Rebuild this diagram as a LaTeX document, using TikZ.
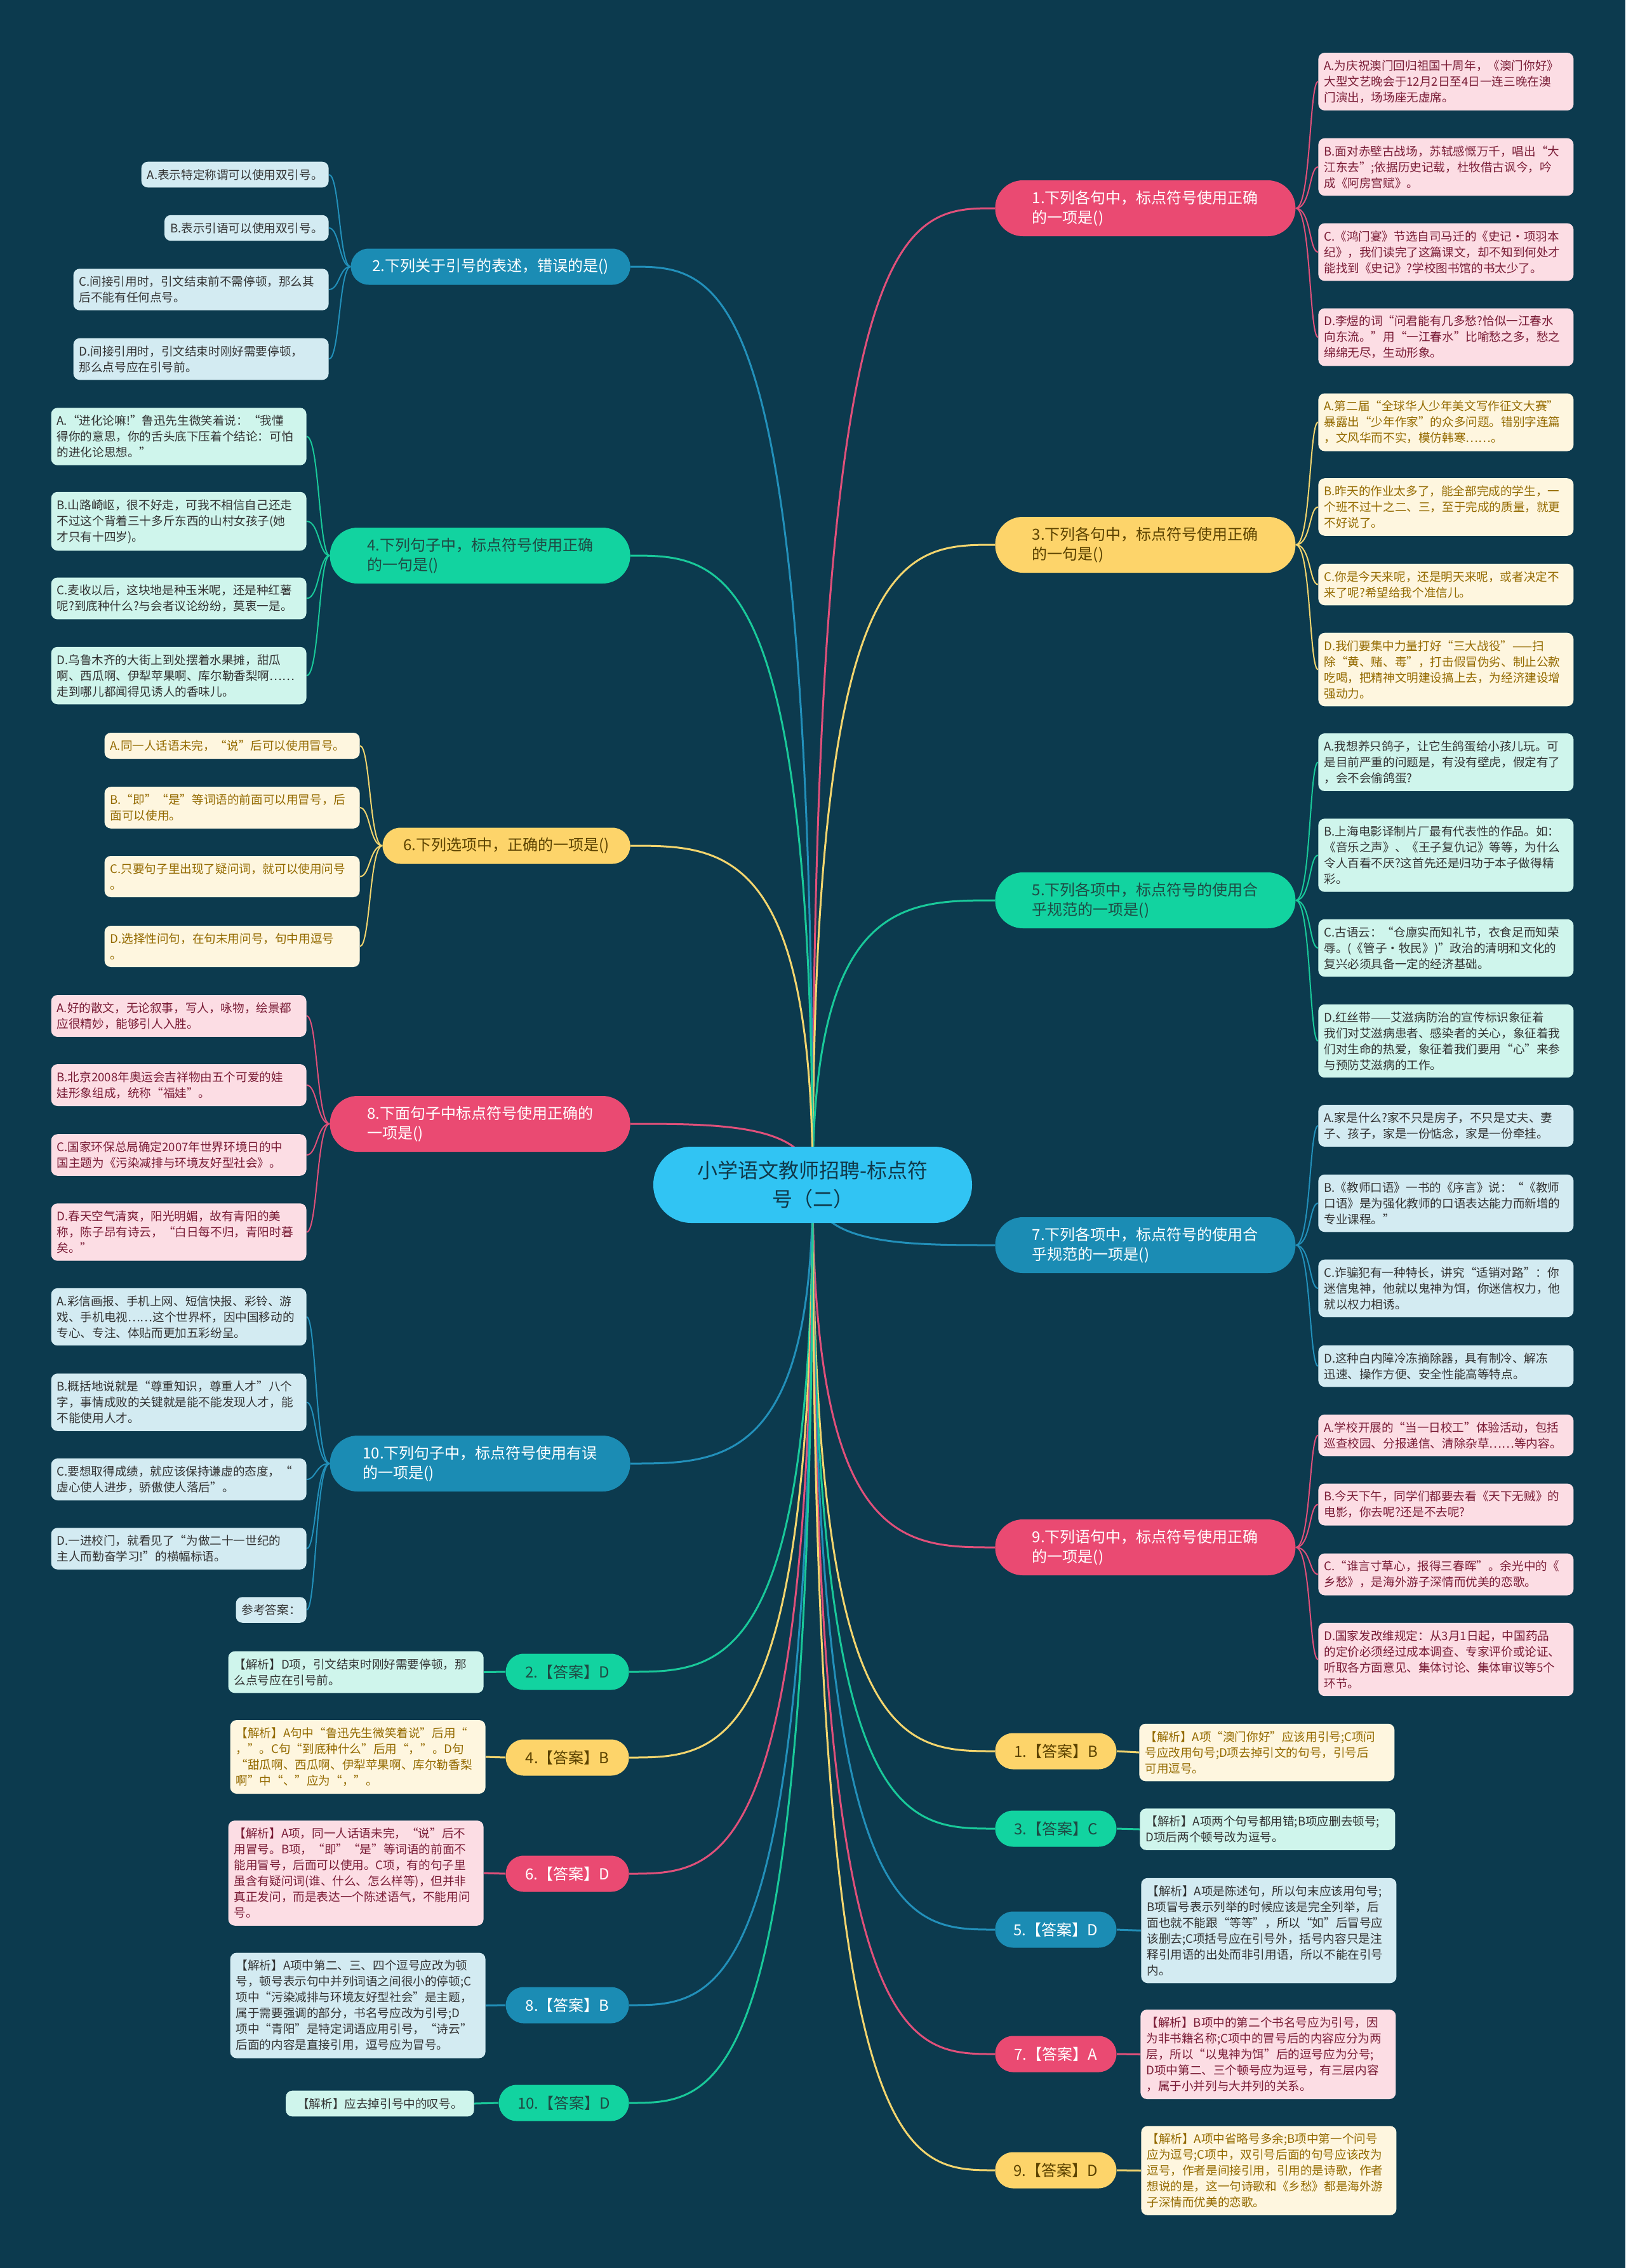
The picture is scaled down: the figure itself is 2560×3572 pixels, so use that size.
\documentclass[tikz,border=0pt]{standalone}
\usepackage{fontspec}
\newfontfamily\cjk{Noto Sans CJK SC}
\usetikzlibrary{calc,backgrounds}
\definecolor{bgC}{HTML}{0C3A4E}
\definecolor{rootC}{HTML}{31C4F3}
\definecolor{rootT}{HTML}{10394A}
\definecolor{pinkB}{HTML}{EA4A72}
\definecolor{yellowB}{HTML}{FDD46A}
\definecolor{greenB}{HTML}{12D3A0}
\definecolor{blueB}{HTML}{1B8CB4}
\definecolor{pinkL}{HTML}{E0507A}
\definecolor{yellowL}{HTML}{F3D56E}
\definecolor{greenL}{HTML}{19C99A}
\definecolor{blueL}{HTML}{2290BA}
\definecolor{pinkF}{HTML}{FCDDE4}
\definecolor{creamF}{HTML}{FEF6DF}
\definecolor{mintF}{HTML}{CFF5EC}
\definecolor{blueF}{HTML}{D3EBF2}
\definecolor{pinkT}{HTML}{7A1C36}
\definecolor{creamT}{HTML}{946A00}
\definecolor{darkT}{HTML}{333333}
\definecolor{yellowT}{HTML}{5B4200}
\definecolor{greenT}{HTML}{1F4A44}
\newcommand\leaffnt{\cjk\fontsize{9.3pt}{12.5pt}\selectfont}
\newcommand\brfnt{\cjk\fontsize{12pt}{15.5pt}\selectfont}
\newcommand\rootfnt{\cjk\fontsize{16pt}{22.5pt}\selectfont}
\tikzset{
  leaf/.style={rounded corners=5pt, inner xsep=4.5pt, inner ysep=5.8pt, font=\leaffnt, align=left},
  wd/.style={text width=192pt},
  lpink/.style={leaf, fill=pinkF, text=pinkT},
  lcream/.style={leaf, fill=creamF, text=creamT},
  lmint/.style={leaf, fill=mintF, text=darkT},
  lblue/.style={leaf, fill=blueF, text=darkT},
  br/.style={rectangle, font=\brfnt, align=left, inner xsep=6pt, inner ysep=2pt},
  two/.style={minimum width=236.5pt, minimum height=44pt, rounded corners=21.8pt},
  one/.style={minimum height=28.5pt, rounded corners=14.1pt},
  brpink/.style={br, fill=pinkB, text=white},
  bryellow/.style={br, fill=yellowB, text=yellowT},
  brgreen/.style={br, fill=greenB, text=greenT},
  brblue/.style={br, fill=blueB, text=white},
  main/.style={line width=1.5pt},
  sub/.style={line width=1pt}
}
\begin{document}
\begin{tikzpicture}[x=0.5pt,y=-0.5pt]
\useasboundingbox (0,0) rectangle (2560,3572);
% root
\node[rectangle, rounded corners=29.8pt, fill=rootC, text=rootT, font=\rootfnt, align=center, minimum width=251pt, minimum height=60pt] (root) at (1280,1866) {小学语文教师招聘-标点符\\号（二）};

% right question branches
\node[brpink, two, anchor=west] (b1) at (1567,328) {1.下列各句中，标点符号使用正确\\的一项是()};
\node[bryellow, two, anchor=west] (b3) at (1567,858) {3.下列各句中，标点符号使用正确\\的一句是()};
\node[brgreen, two, anchor=west] (b5) at (1567,1418) {5.下列各项中，标点符号的使用合\\乎规范的一项是()};
\node[brblue, two, anchor=west] (b7) at (1567,1961) {7.下列各项中，标点符号的使用合\\乎规范的一项是()};
\node[brpink, two, anchor=west] (b9) at (1567,2437) {9.下列语句中，标点符号使用正确\\的一项是()};

% left question branches
\node[brblue, one, minimum width=220pt, anchor=east] (b2) at (993,420) {2.下列关于引号的表述，错误的是()};
\node[brgreen, two, anchor=east] (b4) at (993,875) {4.下列句子中，标点符号使用正确\\的一句是()};
\node[bryellow, one, minimum width=195pt, anchor=east] (b6) at (993,1332) {6.下列选项中，正确的一项是()};
\node[brpink, two, anchor=east] (b8) at (993,1770) {8.下面句子中标点符号使用正确的\\一项是()};
\node[brblue, two, anchor=east] (b10) at (993,2305) {10.下列句子中，标点符号使用有误\\的一项是()};

% answer branches left
\node[brgreen, one, minimum width=97pt, anchor=east] (a2) at (991,2633) {2.【答案】D};
\node[bryellow, one, minimum width=97pt, anchor=east] (a4) at (991,2768) {4.【答案】B};
\node[brpink, one, minimum width=97pt, anchor=east] (a6) at (991,2951) {6.【答案】D};
\node[brblue, one, minimum width=97pt, anchor=east] (a8) at (991,3158) {8.【答案】B};
\node[brgreen, one, minimum width=102.5pt, anchor=east] (a10) at (991,3312) {10.【答案】D};

% answer branches right
\node[bryellow, one, minimum width=95.5pt, anchor=west] (a1) at (1567,2758) {1.【答案】B};
\node[brgreen, one, minimum width=95.5pt, anchor=west] (a3) at (1567,2880) {3.【答案】C};
\node[brblue, one, minimum width=95.5pt, anchor=west] (a5) at (1567,3039) {5.【答案】D};
\node[brpink, one, minimum width=95.5pt, anchor=west] (a7) at (1567,3235) {7.【答案】A};
\node[bryellow, one, minimum width=95.5pt, anchor=west] (a9) at (1567,3418) {9.【答案】D};

% q1 leaves
\node[lpink, wd, anchor=west] (q1a) at (2076,128.5) {A.为庆祝澳门回归祖国十周年，《澳门你好》\\大型文艺晚会于12月2日至4日一连三晚在澳\\门演出，场场座无虚席。};
\node[lpink, wd, anchor=west] (q1b) at (2076,263) {B.面对赤壁古战场，苏轼感慨万千，唱出“大\\江东去”;依据历史记载，杜牧借古讽今，吟\\成《阿房宫赋》。};
\node[lpink, wd, anchor=west] (q1c) at (2076,397) {C.《鸿门宴》节选自司马迁的《史记·项羽本\\纪》，我们读完了这篇课文，却不知到何处才\\能找到《史记》?学校图书馆的书太少了。};
\node[lpink, wd, anchor=west] (q1d) at (2076,531) {D.李煜的词“问君能有几多愁?恰似一江春水\\向东流。”用“一江春水”比喻愁之多，愁之\\绵绵无尽，生动形象。};

% q3 leaves
\node[lcream, wd, anchor=west] (q3a) at (2076,665) {A.第二届“全球华人少年美文写作征文大赛”\\暴露出“少年作家”的众多问题。错别字连篇\\，文风华而不实，模仿韩寒……。};
\node[lcream, wd, anchor=west] (q3b) at (2076,798.5) {B.昨天的作业太多了，能全部完成的学生，一\\个班不过十之二、三，至于完成的质量，就更\\不好说了。};
\node[lcream, wd, anchor=west] (q3c) at (2076,920.5) {C.你是今天来呢，还是明天来呢，或者决定不\\来了呢?希望给我个准信儿。};
\node[lcream, wd, anchor=west] (q3d) at (2076,1054.5) {D.我们要集中力量打好“三大战役”——扫\\除“黄、赌、毒”，打击假冒伪劣、制止公款\\吃喝，把精神文明建设搞上去，为经济建设增\\强动力。};

% q5 leaves
\node[lmint, wd, anchor=west] (q5a) at (2076,1200.5) {A.我想养只鸽子，让它生鸽蛋给小孩儿玩。可\\是目前严重的问题是，有没有壁虎，假定有了\\，会不会偷鸽蛋?};
\node[lmint, wd, anchor=west] (q5b) at (2076,1347) {B.上海电影译制片厂最有代表性的作品。如：\\《音乐之声》、《王子复仇记》等等，为什么\\令人百看不厌?这首先还是归功于本子做得精\\彩。};
\node[lmint, wd, anchor=west] (q5c) at (2076,1493) {C.古语云：“仓廪实而知礼节，衣食足而知荣\\辱。(《管子•牧民》)”政治的清明和文化的\\复兴必须具备一定的经济基础。};
\node[lmint, wd, anchor=west] (q5d) at (2076,1639.5) {D.红丝带——艾滋病防治的宣传标识象征着\\我们对艾滋病患者、感染者的关心，象征着我\\们对生命的热爱，象征着我们要用“心”来参\\与预防艾滋病的工作。};

% q7 leaves
\node[lblue, wd, anchor=west] (q7a) at (2076,1773) {A.家是什么?家不只是房子，不只是丈夫、妻\\子、孩子，家是一份惦念，家是一份牵挂。};
\node[lblue, wd, anchor=west] (q7b) at (2076,1895) {B.《教师口语》一书的《序言》说：“《教师\\口语》是为强化教师的口语表达能力而新增的\\专业课程。”};
\node[lblue, wd, anchor=west] (q7c) at (2076,2029) {C.诈骗犯有一种特长，讲究“适销对路”：你\\迷信鬼神，他就以鬼神为饵，你迷信权力，他\\就以权力相诱。};
\node[lblue, wd, anchor=west] (q7d) at (2076,2151.5) {D.这种白内障冷冻摘除器，具有制冷、解冻\\迅速、操作方便、安全性能高等特点。};

% q9 leaves
\node[lpink, wd, anchor=west] (q9a) at (2076,2260.5) {A.学校开展的“当一日校工”体验活动，包括\\巡查校园、分报递信、清除杂草……等内容。};
\node[lpink, wd, anchor=west] (q9b) at (2076,2369.5) {B.今天下午，同学们都要去看《天下无贼》的\\电影，你去呢?还是不去呢?};
\node[lpink, wd, anchor=west] (q9c) at (2076,2479.5) {C.“谁言寸草心，报得三春晖”。余光中的《\\乡愁》，是海外游子深情而优美的恋歌。};
\node[lpink, wd, anchor=west] (q9d) at (2076,2613.5) {D.国家发改维规定：从3月1日起，中国药品\\的定价必须经过成本调查、专家评价或论证、\\听取各方面意见、集体讨论、集体审议等5个\\环节。};

% q2 leaves
\node[lblue, anchor=east] (q2a) at (518,275) {A.表示特定称谓可以使用双引号。};
\node[lblue, anchor=east] (q2b) at (518,359) {B.表示引语可以使用双引号。};
\node[lblue, wd, anchor=east] (q2c) at (518,456) {C.间接引用时，引文结束前不需停顿，那么其\\后不能有任何点号。};
\node[lblue, wd, anchor=east] (q2d) at (518,565.5) {D.间接引用时，引文结束时刚好需要停顿，\\那么点号应在引号前。};

% q4 leaves
\node[lmint, wd, anchor=east] (q4a) at (483,687.5) {A.“进化论嘛!”鲁迅先生微笑着说：“我懂\\得你的意思，你的舌头底下压着个结论：可怕\\的进化论思想。”};
\node[lmint, wd, anchor=east] (q4b) at (483,821) {B.山路崎岖，很不好走，可我不相信自己还走\\不过这个背着三十多斤东西的山村女孩子(她\\才只有十四岁)。};
\node[lmint, wd, anchor=east] (q4c) at (483,942.5) {C.麦收以后，这块地是种玉米呢，还是种红薯\\呢?到底种什么?与会者议论纷纷，莫衷一是。};
\node[lmint, wd, anchor=east] (q4d) at (483,1064) {D.乌鲁木齐的大街上到处摆着水果摊，甜瓜\\啊、西瓜啊、伊犁苹果啊、库尔勒香梨啊……\\走到哪儿都闻得见诱人的香味儿。};

% q6 leaves
\node[lcream, wd, anchor=east] (q6a) at (567,1174.5) {A.同一人话语未完，“说”后可以使用冒号。};
\node[lcream, wd, anchor=east] (q6b) at (567,1272) {B.“即”“是”等词语的前面可以用冒号，后\\面可以使用。};
\node[lcream, wd, anchor=east] (q6c) at (567,1380.5) {C.只要句子里出现了疑问词，就可以使用问号\\。};
\node[lcream, wd, anchor=east] (q6d) at (567,1490.5) {D.选择性问句，在句末用问号，句中用逗号\\。};

% q8 leaves
\node[lpink, wd, anchor=east] (q8a) at (483,1600) {A.好的散文，无论叙事，写人，咏物，绘景都\\应很精妙，能够引人入胜。};
\node[lpink, wd, anchor=east] (q8b) at (483,1709) {B.北京2008年奥运会吉祥物由五个可爱的娃\\娃形象组成，统称“福娃”。};
\node[lpink, wd, anchor=east] (q8c) at (483,1819) {C.国家环保总局确定2007年世界环境日的中\\国主题为《污染减排与环境友好型社会》。};
\node[lpink, wd, anchor=east] (q8d) at (483,1940.5) {D.春天空气清爽，阳光明媚，故有青阳的美\\称，陈子昂有诗云，“白日每不归，青阳时暮\\矣。”};

% q10 leaves
\node[lblue, wd, anchor=east] (q10a) at (483,2074) {A.彩信画报、手机上网、短信快报、彩铃、游\\戏、手机电视……这个世界杯，因中国移动的\\专心、专注、体贴而更加五彩纷呈。};
\node[lblue, wd, anchor=east] (q10b) at (483,2208.5) {B.概括地说就是“尊重知识，尊重人才”八个\\字，事情成败的关键就是能不能发现人才，能\\不能使用人才。};
\node[lblue, wd, anchor=east] (q10c) at (483,2330) {C.要想取得成绩，就应该保持谦虚的态度，“\\虚心使人进步，骄傲使人落后”。};
\node[lblue, wd, anchor=east] (q10d) at (483,2439) {D.一进校门，就看见了“为做二十一世纪的\\主人而勤奋学习!”的横幅标语。};
\node[lblue, anchor=east] (q10e) at (483,2535.5) {参考答案：};

% answer leaves left
\node[lmint, wd, anchor=east] (n2) at (762,2633.5) {【解析】D项，引文结束时刚好需要停顿，那\\么点号应在引号前。};
\node[lcream, wd, anchor=east] (n4) at (765,2767) {【解析】A句中“鲁迅先生微笑着说”后用“\\，”。C句“到底种什么”后用“，”。D句\\“甜瓜啊、西瓜啊、伊犁苹果啊、库尔勒香梨\\啊”中“、”应为“，”。};
\node[lpink, wd, anchor=east] (n6) at (762,2950) {【解析】A项，同一人话语未完，“说”后不\\用冒号。B项，“即”“是”等词语的前面不\\能用冒号，后面可以使用。C项，有的句子里\\虽含有疑问词(谁、什么、怎么样等)，但并非\\真正发问，而是表达一个陈述语气，不能用问\\号。};
\node[lblue, wd, anchor=east] (n8) at (765,3158.5) {【解析】A项中第二、三、四个逗号应改为顿\\号，顿号表示句中并列词语之间很小的停顿;C\\项中“污染减排与环境友好型社会”是主题，\\属于需要强调的部分，书名号应改为引号;D\\项中“青阳”是特定词语应用引号，“诗云”\\后面的内容是直接引用，逗号应为冒号。};
\node[lmint, anchor=east, inner xsep=9pt] (n10) at (747,3313) {【解析】应去掉引号中的叹号。};

% answer leaves right
\node[lcream, wd, anchor=west] (n1) at (1794,2760) {【解析】A项“澳门你好”应该用引号;C项问\\号应改用句号;D项去掉引文的句号，引号后\\可用逗号。};
\node[lmint, wd, anchor=west] (n3) at (1795,2881) {【解析】A项两个句号都用错;B项应删去顿号;\\D项后两个顿号改为逗号。};
\node[lblue, wd, anchor=west] (n5) at (1797,3040.5) {【解析】A项是陈述句，所以句末应该用句号;\\B项冒号表示列举的时候应该是完全列举，后\\面也就不能跟“等等”，所以“如”后冒号应\\该删去;C项括号应在引号外，括号内容只是注\\释引用语的出处而非引用语，所以不能在引号\\内。};
\node[lpink, wd, anchor=west] (n7) at (1796,3235.5) {【解析】B项中的第二个书名号应为引号，因\\为非书籍名称;C项中的冒号后的内容应分为两\\层，所以“以鬼神为饵”后的逗号应为分号;\\D项中第二、三个顿号应为逗号，有三层内容\\，属于小并列与大并列的关系。};
\node[lcream, wd, anchor=west] (n9) at (1797,3418.5) {【解析】A项中省略号多余;B项中第一个问号\\应为逗号;C项中，双引号后面的句号应该改为\\逗号，作者是间接引用，引用的是诗歌，作者\\想说的是，这一句诗歌和《乡愁》都是海外游\\子深情而优美的恋歌。};

\begin{pgfonlayer}{background}
\fill[bgC] (0,0) rectangle (2560,3572);
% root to right branches
\foreach \n/\c in {b1/pinkL,b3/yellowL,b5/greenL,b7/blueL,b9/pinkL,a1/yellowL,a3/greenL,a5/blueL,a7/pinkL,a9/yellowL}
  \draw[main,\c] (root.center) .. controls (root.center |- \n.west) and ($(root.center |- \n.west)!0.5!(\n.west)$) .. (\n.west);
% root to left branches
\foreach \n/\c in {b2/blueL,b4/greenL,b6/yellowL,b8/pinkL,b10/blueL,a2/greenL,a4/yellowL,a6/pinkL,a8/blueL,a10/greenL}
  \draw[main,\c] (root.center) .. controls (root.center |- \n.east) and ($(root.center |- \n.east)!0.5!(\n.east)$) .. (\n.east);
% right leaf brackets
\foreach \l in {q1a,q1b,q1c,q1d} \draw[sub,pinkL] (b1.east) .. controls +(24,0) and +(-14,0) .. (\l.west);
\foreach \l in {q3a,q3b,q3c,q3d} \draw[sub,yellowL] (b3.east) .. controls +(24,0) and +(-14,0) .. (\l.west);
\foreach \l in {q5a,q5b,q5c,q5d} \draw[sub,greenL] (b5.east) .. controls +(24,0) and +(-14,0) .. (\l.west);
\foreach \l in {q7a,q7b,q7c,q7d} \draw[sub,blueL] (b7.east) .. controls +(24,0) and +(-14,0) .. (\l.west);
\foreach \l in {q9a,q9b,q9c,q9d} \draw[sub,pinkL] (b9.east) .. controls +(24,0) and +(-14,0) .. (\l.west);
% left leaf brackets
\foreach \l in {q2a,q2b,q2c,q2d} \draw[sub,blueL] (b2.west) .. controls +(-18,0) and +(17,0) .. (\l.east);
\foreach \l in {q4a,q4b,q4c,q4d} \draw[sub,greenL] (b4.west) .. controls +(-17,0) and +(20,0) .. (\l.east);
\foreach \l in {q6a,q6b,q6c,q6d} \draw[sub,yellowL] (b6.west) .. controls +(-20,0) and +(16,0) .. (\l.east);
\foreach \l in {q8a,q8b,q8c,q8d} \draw[sub,pinkL] (b8.west) .. controls +(-20,0) and +(17,0) .. (\l.east);
\foreach \l in {q10a,q10b,q10c,q10d,q10e} \draw[sub,blueL] (b10.west) .. controls +(-22,0) and +(15,0) .. (\l.east);
% answer links
\draw[main,greenL] (a2.west) -- (n2.east);
\draw[main,yellowL] (a4.west) -- (n4.east);
\draw[main,pinkL] (a6.west) -- (n6.east);
\draw[main,blueL] (a8.west) -- (n8.east);
\draw[main,greenL] (a10.west) -- (n10.east);
\draw[main,yellowL] (a1.east) -- (n1.west);
\draw[main,greenL] (a3.east) -- (n3.west);
\draw[main,blueL] (a5.east) -- (n5.west);
\draw[main,pinkL] (a7.east) -- (n7.west);
\draw[main,yellowL] (a9.east) -- (n9.west);
\end{pgfonlayer}
\end{tikzpicture}
\end{document}
